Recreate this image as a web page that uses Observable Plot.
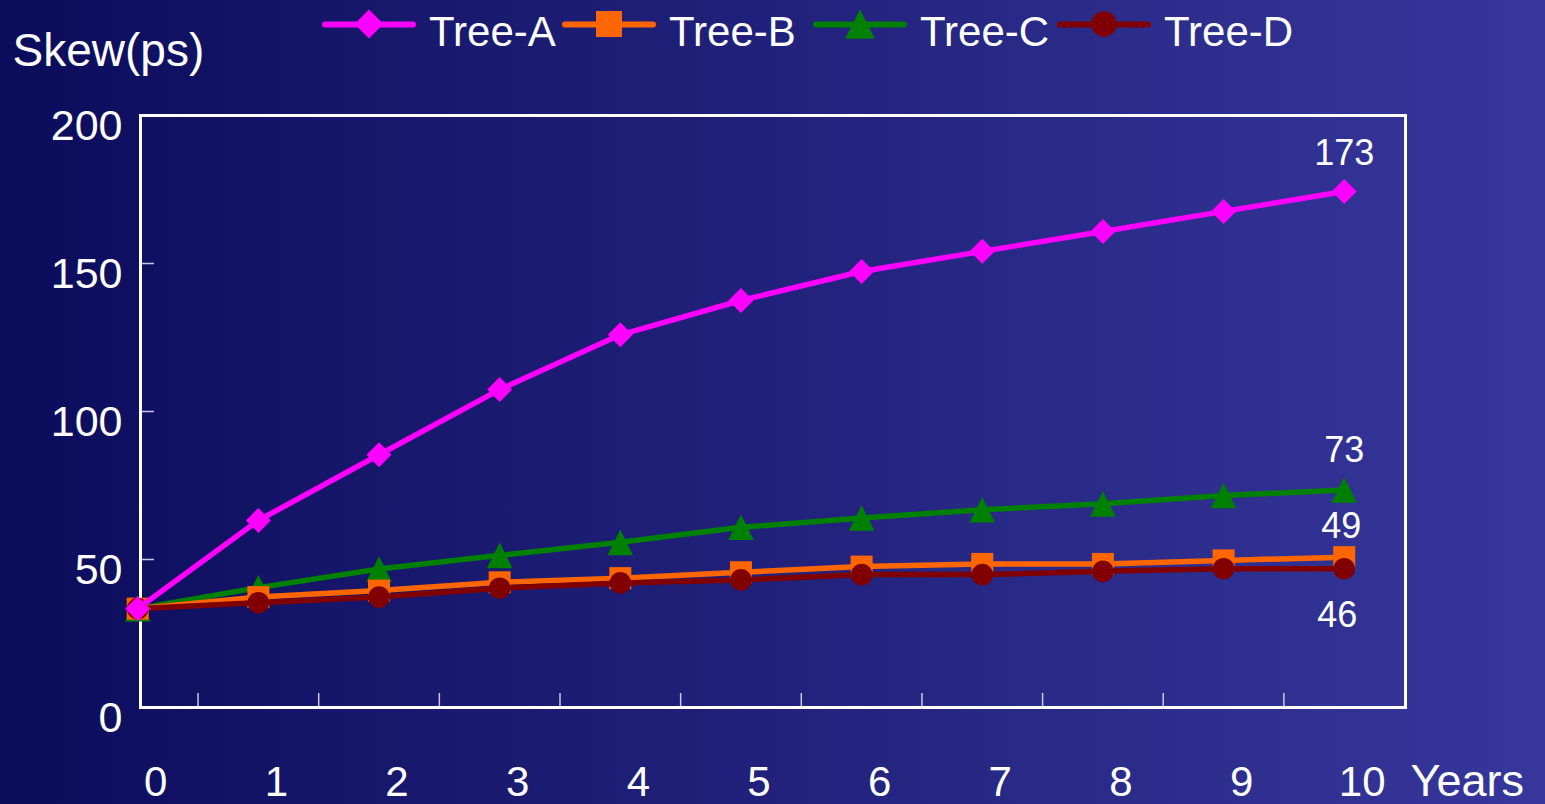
<!DOCTYPE html>
<html>
<head>
<meta charset="utf-8">
<script src="https://cdn.jsdelivr.net/npm/d3@7"></script>
<script src="https://cdn.jsdelivr.net/npm/@observablehq/plot@0.6"></script>
<style>
html, body { margin: 0; padding: 0; overflow: hidden; }
#wrap { position: relative; width: 1545px; height: 804px;
  background: linear-gradient(90deg, #0c0c5c 0%, #37379c 100%);
  font-family: "Liberation Sans", Arial, sans-serif; color: #fff; }
#chart, #legend { position: absolute; left: 0; top: 0; }
</style>
</head>
<body>
<div id="wrap"><div id="chart"></div><div id="legend"></div></div>
<script>
// ---- data ----
const years = [0, 1, 2, 3, 4, 5, 6, 7, 8, 9, 10];
const xTickLabels = ["0", "1", "2", "3", "4", "5", "6", "7", "8", "9", "10"];
const yTicks = [0, 50, 100, 150, 200];
const seriesNames = ["Tree-A", "Tree-B", "Tree-C", "Tree-D"];
const treeA = [33.4, 63.2, 85.4, 107.4, 125.9, 137.5, 147.3, 154.1, 160.8, 167.6, 174.3];
const treeB = [33.4, 37.3, 39.5, 42.3, 43.7, 45.7, 47.6, 48.5, 48.5, 49.7, 50.8];
const treeC = [33.4, 40.5, 46.8, 51.4, 55.8, 60.9, 64.0, 66.8, 68.8, 71.6, 73.5];
const treeD = [33.4, 35.4, 37.3, 40.3, 42.1, 43.1, 44.9, 44.9, 46.0, 46.9, 46.9];
const endLabels = [173, 49, 73, 46];

// ---- styles ----
const FONT = '"Liberation Sans", Arial, sans-serif';
const colors = {"Tree-A": "#ff00ff", "Tree-B": "#ff6600", "Tree-C": "#008000", "Tree-D": "#800000"};
const rad = s => Math.sqrt(s / Math.PI);
const symbols = {
  "Tree-A": {draw(c, s) { const r = rad(s); c.moveTo(0, -r); c.lineTo(r, 0); c.lineTo(0, r); c.lineTo(-r, 0); c.closePath(); }},
  "Tree-B": {draw(c, s) { const r = rad(s); c.moveTo(-r, -r); c.lineTo(r, -r); c.lineTo(r, r); c.lineTo(-r, r); c.closePath(); }},
  "Tree-C": {draw(c, s) { const r = rad(s); c.moveTo(0, -r); c.lineTo(r, r); c.lineTo(-r, r); c.closePath(); }},
  "Tree-D": {draw(c, s) { const r = rad(s); c.moveTo(r, 0); c.arc(0, 0, r, 0, 2 * Math.PI); c.closePath(); }}
};
const symbolR = {"Tree-A": 12.5, "Tree-B": 11, "Tree-C": 12.8, "Tree-D": 10.8};
const labelDy = {"Tree-A": -30, "Tree-B": -24, "Tree-C": -29, "Tree-D": 56};
const labelDx = {"Tree-A": 0, "Tree-B": -3, "Tree-C": 0, "Tree-D": -7};
const drawOrder = ["Tree-C", "Tree-B", "Tree-D", "Tree-A"];

const seriesValues = {"Tree-A": treeA, "Tree-B": treeB, "Tree-C": treeC, "Tree-D": treeD};
const rows = seriesNames.flatMap(s => seriesValues[s].map((v, i) => ({series: s, year: years[i], value: v})));
const endRows = seriesNames.map((s, k) => ({series: s, year: years[years.length - 1], value: endLabels[k], text: String(endLabels[k])}));
const xTickPos = years.slice(0, -1).map(y => y + 0.5);

const W = 1545, H = 804, ML = 140, MR = 140, MT = 115, MB = 97;
const frameW = W - ML - MR, frameH = H - MT - MB;

const seriesMarks = drawOrder.flatMap(s => {
  const d = rows.filter(r => r.series === s);
  return [
    Plot.line(d, {x: "year", y: "value", stroke: colors[s], strokeWidth: 5.5, strokeLinejoin: "round"}),
    Plot.dot(d, {x: "year", y: "value", symbol: symbols[s], r: symbolR[s], fill: colors[s], stroke: "none"})
  ];
});
const labelMarks = seriesNames.map(s => Plot.text(endRows.filter(r => r.series === s), {
  x: "year", y: "value", text: "text", lineAnchor: "bottom", dy: labelDy[s], dx: labelDx[s],
  fill: "white", fontSize: 36, fontFamily: FONT
}));

const chart = Plot.plot({
  width: W, height: H,
  marginLeft: ML, marginRight: MR, marginTop: MT, marginBottom: MB,
  style: {background: "transparent", fontFamily: FONT, color: "white", overflow: "visible"},
  x: {domain: [0.023, 10.508], axis: null},
  y: {domain: [0, 200], axis: null},
  marks: [
    Plot.tickX(xTickPos, {x: d => d, stroke: "#c8c8e6", strokeWidth: 1.5, insetTop: frameH - 14}),
    Plot.tickY(yTicks.slice(1, -1), {y: d => d, stroke: "#c8c8e6", strokeWidth: 1.5, insetRight: frameW - 14}),
    Plot.frame({stroke: "white", strokeWidth: 3}),
    Plot.text(yTicks, {y: d => d, text: d => String(d), frameAnchor: "left", textAnchor: "end",
      dx: -18, dy: 24, lineAnchor: "bottom", fill: "white", fontSize: 43, fontFamily: FONT}),
    Plot.text(years, {x: d => d, text: (d, i) => xTickLabels[i], frameAnchor: "bottom",
      dx: 18, dy: 88, lineAnchor: "bottom", fill: "white", fontSize: 42, fontFamily: FONT}),
    Plot.text(["Years"], {text: d => d, frameAnchor: "bottom-right", textAnchor: "start",
      dx: 5, dy: 88, lineAnchor: "bottom", fill: "white", fontSize: 45, fontFamily: FONT}),
    Plot.text(["Skew(ps)"], {text: d => d, frameAnchor: "top-left", textAnchor: "start",
      dx: -128, dy: -50, lineAnchor: "bottom", fill: "white", fontSize: 46, fontFamily: FONT}),
    ...seriesMarks,
    ...labelMarks
  ]
});
document.getElementById("chart").appendChild(chart);

// ---- legend ----
const legendStarts = {"Tree-A": 325, "Tree-B": 565, "Tree-C": 816, "Tree-D": 1060};
const lsvg = d3.select("#legend").append("svg").attr("width", W).attr("height", 60)
  .style("font-family", FONT);
seriesNames.forEach(s => {
  const g = lsvg.append("g").attr("transform", `translate(${legendStarts[s]},0)`);
  g.append("line").attr("x1", 0).attr("x2", 88).attr("y1", 24.5).attr("y2", 24.5)
    .attr("stroke", colors[s]).attr("stroke-width", 6).attr("stroke-linecap", "round");
  g.append("path").attr("transform", "translate(44,24)")
    .attr("d", d3.symbol(symbols[s], Math.PI * (symbolR[s] + 2) ** 2)())
    .attr("fill", colors[s]);
  g.append("text").attr("x", 104).attr("y", 46).attr("fill", "white")
    .attr("font-size", 42).text(s);
});
</script>
</body>
</html>
